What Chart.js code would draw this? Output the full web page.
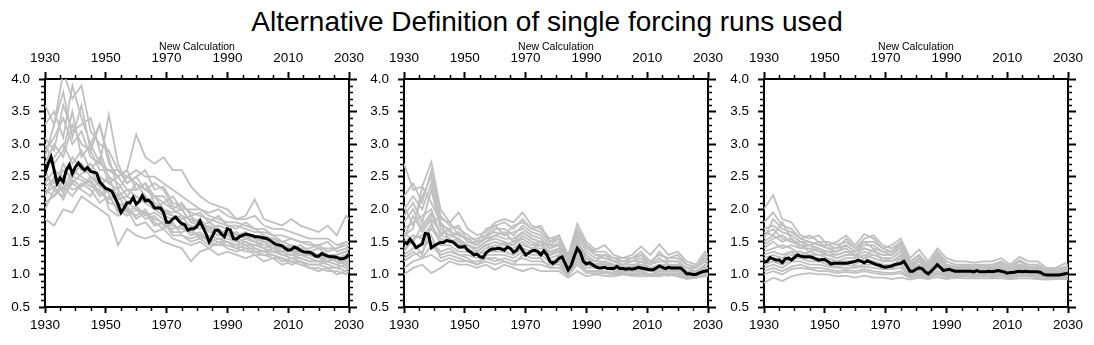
<!DOCTYPE html>
<html>
<head>
<meta charset="utf-8">
<script src="https://cdn.jsdelivr.net/npm/chart.js@4.4.1/dist/chart.umd.min.js"></script>
<style>
body { margin: 0; background: #fff; width: 1094px; height: 345px; overflow: hidden; position: relative; font-family: "Liberation Sans", Arial, sans-serif; }
#title { position: absolute; left: 0; top: 8px; width: 1094px; text-align: center; font-size: 28px; line-height: 28px; color: #000; }
canvas { position: absolute; top: 0; }
</style>
</head>
<body>
<div id="title">Alternative Definition of single forcing runs used</div>
<canvas id="c0" width="375" height="345" style="left:0px"></canvas>
<canvas id="c1" width="375" height="345" style="left:359px"></canvas>
<canvas id="c2" width="375" height="345" style="left:719px"></canvas>
<script>
// axis ticks
const xTicks = [1930, 1950, 1970, 1990, 2010, 2030];
const yTicks = [0.5, 1.0, 1.5, 2.0, 2.5, 3.0, 3.5, 4.0];
const minorYears = [1935,1940,1945,1955,1960,1965,1975,1980,1985,1995,2000,2005,2015,2020,2025];
const minorVals = [0.6,0.7,0.8,0.9,1.1,1.2,1.3,1.4,1.6,1.7,1.8,1.9,2.1,2.2,2.3,2.4,2.6,2.7,2.8,2.9,3.1,3.2,3.3,3.4,3.6,3.7,3.8,3.9];

// yearly x values for the ensemble mean (black)
const years = [];
for (let y = 1930; y <= 2030; y++) years.push(y);

// x values for the single runs (grey)
const grayYears = [1930,1933,1936,1939,1942,1945,1948,1951,1954,1957,1960,1963,1966,1969,1972,1975,1978,1981,1984,1987,1990,1993,1996,1999,2002,2005,2008,2011,2014,2017,2020,2023,2026,2029,2030];

// ensemble means
const meanLeft = [2.55,2.7,2.8,2.6,2.4,2.48,2.42,2.6,2.68,2.55,2.65,2.71,2.65,2.6,2.64,2.58,2.57,2.55,2.42,2.37,2.32,2.3,2.28,2.18,2.08,1.95,2.02,2.1,2.1,2.18,2.08,2.12,2.21,2.13,2.14,2.1,2.02,2.02,2.02,1.95,1.8,1.8,1.85,1.88,1.82,1.78,1.76,1.68,1.7,1.7,1.74,1.82,1.72,1.62,1.5,1.58,1.68,1.68,1.62,1.58,1.7,1.68,1.55,1.54,1.58,1.6,1.62,1.61,1.6,1.58,1.58,1.57,1.56,1.55,1.52,1.49,1.46,1.45,1.44,1.4,1.37,1.38,1.42,1.4,1.37,1.35,1.34,1.34,1.32,1.28,1.28,1.32,1.3,1.28,1.27,1.27,1.26,1.24,1.24,1.26,1.31];
const meanMid = [1.5,1.47,1.54,1.48,1.41,1.44,1.47,1.63,1.62,1.41,1.44,1.47,1.49,1.49,1.52,1.51,1.5,1.46,1.42,1.42,1.43,1.37,1.34,1.3,1.31,1.27,1.26,1.33,1.37,1.39,1.39,1.4,1.39,1.37,1.42,1.4,1.34,1.37,1.44,1.37,1.3,1.33,1.36,1.37,1.35,1.3,1.36,1.3,1.2,1.17,1.2,1.25,1.27,1.17,1.07,1.14,1.28,1.4,1.34,1.2,1.16,1.18,1.15,1.12,1.1,1.1,1.11,1.09,1.09,1.09,1.12,1.09,1.09,1.08,1.09,1.08,1.09,1.11,1.1,1.09,1.08,1.07,1.07,1.1,1.13,1.11,1.09,1.11,1.1,1.1,1.1,1.1,1.06,1.01,1.01,1.0,1.0,1.02,1.04,1.05,1.06];
const meanRight = [1.19,1.2,1.26,1.24,1.22,1.22,1.18,1.24,1.25,1.22,1.26,1.3,1.28,1.27,1.27,1.27,1.26,1.24,1.22,1.23,1.23,1.2,1.16,1.17,1.17,1.17,1.17,1.17,1.18,1.19,1.2,1.22,1.2,1.18,1.21,1.19,1.17,1.15,1.14,1.12,1.11,1.12,1.13,1.15,1.16,1.17,1.2,1.13,1.05,1.05,1.08,1.1,1.09,1.04,1.01,1.05,1.1,1.15,1.11,1.06,1.07,1.08,1.06,1.05,1.05,1.05,1.05,1.05,1.05,1.04,1.06,1.04,1.04,1.04,1.05,1.04,1.05,1.06,1.05,1.04,1.02,1.03,1.03,1.04,1.05,1.04,1.05,1.04,1.04,1.04,1.04,1.03,1.0,0.99,0.99,0.99,0.99,0.99,1.0,1.01,1.02];

// single runs
const runsLeft = [
  [3.6,3.3,4.1,3.7,3.9,3.2,3.0,2.9,2.6,2.5,2.4,2.3,2.2,2.1,2.0,1.9,1.85,1.8,1.7,1.75,1.7,1.6,1.55,1.6,1.5,1.45,1.4,1.35,1.35,1.3,1.25,1.3,1.2,1.25,1.2],
  [3.3,3.5,3.1,3.9,3.4,3.0,3.3,2.7,2.5,2.6,2.3,2.4,2.1,2.0,1.95,2.0,1.8,1.75,1.8,1.7,1.6,1.65,1.55,1.5,1.55,1.5,1.4,1.45,1.3,1.35,1.3,1.25,1.3,1.35,1.4],
  [2.9,3.1,3.4,3.0,3.2,2.8,2.7,3.45,2.7,2.4,2.5,2.6,2.3,2.35,2.1,2.05,1.95,1.9,1.85,1.8,1.75,1.7,1.8,1.7,1.6,1.55,1.5,1.45,1.4,1.4,1.45,1.35,1.4,1.5,1.5],
  [2.6,2.8,3.0,2.7,2.9,2.6,2.8,2.4,2.5,2.6,3.15,2.8,2.7,2.8,2.6,2.6,2.35,2.2,2.1,2.05,2.0,1.85,1.9,2.15,1.85,1.8,1.75,1.85,1.75,1.7,1.65,1.75,1.6,1.9,1.85],
  [2.5,2.4,2.6,2.5,2.7,2.5,2.4,2.3,2.2,2.3,2.2,2.1,2.2,2.0,1.9,1.85,1.9,1.75,1.7,1.6,1.65,1.55,1.5,1.45,1.5,1.4,1.35,1.4,1.3,1.3,1.25,1.2,1.25,1.2,1.25],
  [2.3,2.2,2.35,2.2,2.4,2.3,2.1,2.2,2.0,1.9,2.0,1.85,1.9,1.75,1.7,1.75,1.6,1.65,1.5,1.55,1.5,1.45,1.5,1.4,1.35,1.4,1.3,1.3,1.25,1.2,1.2,1.15,1.1,1.15,1.1],
  [1.85,1.75,2.0,1.95,2.2,2.1,2.0,1.9,1.45,1.7,1.6,1.55,1.6,1.5,1.45,1.4,1.2,1.35,1.4,1.3,1.35,1.3,1.25,1.3,1.2,1.25,1.15,1.2,1.15,1.1,1.05,1.1,1.0,1.05,1.1],
  [2.2,2.5,2.3,2.6,2.5,2.4,2.2,2.3,2.1,2.0,1.9,2.0,1.8,1.7,1.8,1.6,1.55,1.6,1.5,1.45,1.45,1.4,1.35,1.35,1.3,1.3,1.25,1.2,1.2,1.15,1.15,1.1,1.1,1.05,1.1],
  [3.1,2.9,3.6,3.2,3.3,3.4,2.9,2.5,2.4,2.2,2.4,2.2,2.0,2.1,2.2,2.0,1.8,1.85,1.7,1.6,1.7,1.6,1.65,1.55,1.5,1.55,1.45,1.4,1.45,1.35,1.4,1.3,1.3,1.35,1.3],
  [2.0,2.3,2.2,2.4,2.3,2.2,2.5,2.0,1.9,2.0,1.75,1.8,1.65,1.7,1.55,1.5,1.45,1.5,1.4,1.5,1.4,1.35,1.4,1.3,1.3,1.25,1.25,1.15,1.2,1.1,1.1,1.05,1.05,1.0,1.05],
  [2.4,2.6,2.5,2.8,2.6,2.7,2.5,2.4,2.3,2.1,2.2,2.1,2.0,1.9,1.85,1.9,1.7,1.8,1.65,1.6,1.6,1.5,1.55,1.5,1.4,1.45,1.35,1.3,1.35,1.3,1.25,1.25,1.2,1.15,1.2],
  [2.7,3.0,2.8,3.3,3.0,2.9,2.6,2.6,2.5,2.3,2.3,2.4,2.2,2.2,2.0,2.1,1.9,1.95,1.8,1.9,1.75,1.75,1.7,1.65,1.65,1.6,1.5,1.55,1.5,1.45,1.45,1.5,1.35,1.4,1.45],
  [2.35,2.45,2.25,2.5,2.45,2.35,2.3,2.1,2.05,2.1,2.0,1.95,1.85,1.8,1.75,1.7,1.65,1.6,1.55,1.5,1.5,1.45,1.4,1.4,1.35,1.35,1.3,1.25,1.25,1.2,1.2,1.2,1.15,1.2,1.15],
  [2.6,2.3,2.7,2.4,2.55,2.6,2.35,2.5,2.15,2.2,2.1,2.2,2.05,1.95,1.9,1.8,1.75,1.7,1.75,1.65,1.6,1.55,1.6,1.5,1.45,1.4,1.45,1.35,1.3,1.3,1.3,1.25,1.25,1.3,1.3],
  [2.1,2.2,2.45,2.3,2.35,2.45,2.25,2.15,2.25,1.95,2.05,1.9,1.95,1.85,1.65,1.65,1.7,1.55,1.6,1.55,1.55,1.5,1.45,1.45,1.4,1.35,1.35,1.3,1.3,1.25,1.2,1.25,1.2,1.2,1.25],
  [3.0,2.7,2.9,3.5,2.8,3.0,2.7,2.6,2.6,2.4,2.5,2.3,2.4,2.3,2.05,2.0,2.0,2.0,1.9,1.85,1.8,1.8,1.75,1.7,1.7,1.6,1.6,1.55,1.5,1.5,1.4,1.4,1.4,1.45,1.45],
  [2.25,2.35,2.15,2.45,2.35,2.5,2.35,2.25,1.95,2.05,1.85,1.95,1.75,1.8,1.6,1.6,1.5,1.55,1.45,1.45,1.5,1.4,1.45,1.35,1.35,1.3,1.2,1.25,1.2,1.15,1.15,1.2,1.15,1.1,1.15],
  [2.8,3.3,3.8,3.1,3.6,2.9,3.3,2.8,2.3,2.5,2.6,2.5,2.5,2.4,2.3,2.2,2.1,2.0,1.95,2.0,1.9,1.85,1.85,1.9,1.75,1.7,1.7,1.65,1.6,1.55,1.55,1.55,1.45,1.5,1.5]
];
const runsMid = [
  [2.7,2.3,2.35,2.73,2.0,1.8,1.95,1.7,1.6,1.65,1.8,1.85,1.8,1.95,1.75,1.7,1.55,1.6,1.3,1.78,1.5,1.38,1.45,1.3,1.25,1.3,1.43,1.3,1.46,1.3,1.35,1.2,1.15,1.35,1.3],
  [2.2,2.4,2.1,2.6,1.9,1.75,1.7,1.6,1.5,1.7,1.75,1.8,1.7,1.85,1.7,1.65,1.5,1.55,1.25,1.7,1.45,1.3,1.3,1.25,1.2,1.25,1.3,1.2,1.3,1.25,1.25,1.15,1.1,1.25,1.2],
  [1.9,2.1,1.8,2.3,1.7,1.6,1.65,1.5,1.45,1.6,1.65,1.6,1.65,1.7,1.6,1.55,1.4,1.5,1.2,1.6,1.35,1.25,1.25,1.2,1.15,1.2,1.2,1.15,1.2,1.2,1.2,1.1,1.05,1.15,1.15],
  [1.7,1.8,1.9,2.0,1.6,1.7,1.5,1.45,1.4,1.5,1.55,1.5,1.45,1.6,1.5,1.45,1.35,1.4,1.15,1.5,1.3,1.2,1.2,1.15,1.15,1.15,1.15,1.1,1.15,1.15,1.1,1.05,1.05,1.1,1.1],
  [1.5,1.6,1.55,1.7,1.5,1.55,1.4,1.4,1.3,1.4,1.45,1.4,1.4,1.5,1.4,1.4,1.3,1.35,1.1,1.45,1.2,1.15,1.15,1.1,1.1,1.1,1.1,1.05,1.1,1.1,1.1,1.0,1.0,1.05,1.05],
  [1.3,1.4,1.45,1.5,1.35,1.4,1.3,1.3,1.25,1.3,1.3,1.3,1.25,1.35,1.3,1.3,1.2,1.25,1.05,1.3,1.1,1.1,1.1,1.05,1.05,1.05,1.05,1.0,1.05,1.05,1.05,0.98,0.98,1.0,1.0],
  [1.0,1.1,1.15,1.02,1.1,1.2,1.15,1.15,1.1,1.15,1.07,1.15,1.1,1.05,1.1,1.05,1.05,1.05,0.95,1.05,0.97,1.0,0.98,0.97,1.0,0.98,0.97,0.98,0.97,1.0,0.97,0.93,0.95,0.97,0.98],
  [1.6,1.7,2.35,2.1,1.8,1.65,1.6,1.55,1.45,1.55,1.6,1.55,1.55,1.65,1.55,1.5,1.45,1.45,1.2,1.55,1.25,1.2,1.3,1.2,1.2,1.2,1.25,1.15,1.25,1.15,1.15,1.1,1.1,1.2,1.15],
  [1.2,1.3,1.35,1.6,1.25,1.3,1.25,1.2,1.2,1.25,1.2,1.25,1.2,1.25,1.2,1.2,1.15,1.15,1.0,1.2,1.05,1.05,1.05,1.02,1.02,1.02,1.02,1.0,1.02,1.02,1.02,0.96,0.97,0.99,1.0],
  [1.8,2.0,1.7,1.9,1.8,1.5,1.55,1.35,1.35,1.45,1.5,1.45,1.5,1.55,1.45,1.5,1.3,1.4,1.15,1.4,1.25,1.15,1.2,1.15,1.12,1.12,1.2,1.1,1.12,1.12,1.15,1.05,1.02,1.12,1.1],
  [1.4,1.5,1.3,1.8,1.45,1.45,1.35,1.35,1.3,1.35,1.35,1.35,1.3,1.4,1.35,1.35,1.25,1.3,1.1,1.35,1.15,1.12,1.12,1.08,1.08,1.08,1.08,1.05,1.08,1.08,1.08,1.0,1.0,1.03,1.05],
  [2.0,2.2,2.0,2.4,1.75,1.7,1.75,1.5,1.5,1.55,1.7,1.7,1.6,1.75,1.65,1.6,1.45,1.55,1.2,1.65,1.4,1.3,1.25,1.2,1.2,1.2,1.3,1.15,1.35,1.2,1.2,1.1,1.1,1.3,1.25],
  [1.55,1.9,1.65,1.85,1.65,1.6,1.55,1.45,1.4,1.5,1.6,1.65,1.5,1.65,1.55,1.5,1.4,1.45,1.15,1.5,1.2,1.15,1.15,1.12,1.1,1.12,1.12,1.08,1.15,1.1,1.1,1.05,1.03,1.1,1.1],
  [1.35,1.55,1.6,1.75,1.55,1.5,1.5,1.35,1.35,1.45,1.4,1.5,1.35,1.45,1.4,1.45,1.3,1.35,1.1,1.4,1.15,1.1,1.1,1.08,1.05,1.07,1.07,1.05,1.05,1.05,1.07,1.02,1.0,1.05,1.08],
  [1.25,1.35,1.25,1.45,1.3,1.35,1.3,1.25,1.15,1.25,1.25,1.2,1.15,1.3,1.25,1.25,1.1,1.2,1.02,1.25,1.05,1.05,1.03,1.02,1.02,1.0,1.02,1.0,1.0,1.0,1.0,0.97,0.96,1.0,1.02],
  [2.05,1.75,2.2,2.5,1.85,1.8,1.6,1.55,1.55,1.6,1.75,1.6,1.75,1.8,1.7,1.75,1.5,1.6,1.25,1.7,1.45,1.35,1.35,1.25,1.25,1.25,1.35,1.2,1.3,1.25,1.3,1.15,1.12,1.2,1.2],
  [1.1,1.2,1.25,1.3,1.2,1.25,1.2,1.2,1.15,1.2,1.15,1.2,1.15,1.15,1.15,1.15,1.1,1.1,0.98,1.15,1.02,1.02,1.02,1.0,1.0,1.0,1.0,0.98,1.0,0.98,1.0,0.95,0.95,0.98,0.98],
  [1.65,1.5,1.75,1.95,1.6,1.55,1.45,1.45,1.35,1.45,1.5,1.45,1.45,1.55,1.45,1.45,1.35,1.35,1.12,1.45,1.2,1.15,1.18,1.12,1.1,1.1,1.15,1.08,1.12,1.1,1.12,1.05,1.02,1.08,1.1]
];
const runsRight = [
  [2.0,2.22,1.85,1.8,1.6,1.55,1.6,1.45,1.5,1.6,1.45,1.62,1.55,1.4,1.45,1.55,1.25,1.38,1.2,1.4,1.25,1.2,1.2,1.18,1.2,1.2,1.25,1.15,1.27,1.2,1.2,1.1,1.1,1.17,1.15],
  [1.8,1.95,1.75,1.7,1.55,1.6,1.5,1.5,1.45,1.5,1.4,1.55,1.6,1.45,1.4,1.5,1.2,1.3,1.15,1.35,1.2,1.15,1.15,1.15,1.15,1.15,1.2,1.12,1.22,1.15,1.15,1.08,1.08,1.12,1.12],
  [1.7,1.75,1.65,1.6,1.5,1.5,1.45,1.4,1.4,1.45,1.35,1.45,1.45,1.35,1.35,1.45,1.15,1.25,1.12,1.3,1.15,1.12,1.12,1.12,1.12,1.12,1.15,1.1,1.15,1.12,1.12,1.05,1.05,1.1,1.1],
  [1.5,1.6,1.5,1.55,1.45,1.45,1.4,1.35,1.35,1.4,1.3,1.4,1.35,1.3,1.3,1.4,1.12,1.2,1.08,1.25,1.12,1.1,1.1,1.1,1.1,1.1,1.12,1.07,1.12,1.1,1.1,1.03,1.03,1.08,1.08],
  [1.4,1.5,1.4,1.45,1.4,1.4,1.35,1.3,1.3,1.35,1.28,1.35,1.3,1.25,1.25,1.35,1.1,1.15,1.05,1.2,1.1,1.08,1.08,1.08,1.07,1.08,1.1,1.05,1.1,1.08,1.08,1.02,1.02,1.05,1.06],
  [1.3,1.35,1.3,1.35,1.35,1.3,1.3,1.25,1.2,1.25,1.25,1.3,1.25,1.2,1.2,1.3,1.05,1.12,1.02,1.15,1.07,1.05,1.05,1.05,1.05,1.05,1.07,1.03,1.07,1.05,1.05,1.0,1.0,1.03,1.04],
  [1.2,1.25,1.2,1.3,1.3,1.25,1.25,1.2,1.15,1.2,1.2,1.2,1.2,1.15,1.15,1.2,1.02,1.08,1.0,1.1,1.04,1.03,1.03,1.02,1.03,1.02,1.04,1.0,1.04,1.03,1.03,0.98,0.98,1.0,1.01],
  [1.1,1.15,1.1,1.2,1.2,1.15,1.15,1.12,1.1,1.1,1.1,1.12,1.1,1.08,1.08,1.1,0.98,1.03,0.97,1.05,1.0,1.0,1.0,0.99,1.0,0.99,1.0,0.97,1.0,1.0,1.0,0.96,0.96,0.98,0.98],
  [0.87,0.95,0.9,0.97,1.0,1.02,1.0,1.0,0.97,0.98,0.95,0.98,0.95,0.95,0.93,0.95,0.92,0.95,0.93,0.96,0.93,0.95,0.94,0.94,0.94,0.94,0.94,0.93,0.94,0.94,0.93,0.92,0.93,0.93,0.92],
  [1.0,1.05,1.0,1.08,1.1,1.08,1.05,1.05,1.02,1.04,1.02,1.05,1.02,1.0,1.0,1.02,0.95,0.98,0.95,1.0,0.96,0.97,0.97,0.96,0.97,0.96,0.97,0.95,0.97,0.97,0.96,0.94,0.94,0.96,0.95],
  [1.6,1.7,1.55,1.5,1.45,1.35,1.4,1.3,1.25,1.3,1.3,1.25,1.4,1.2,1.25,1.35,1.08,1.15,1.05,1.25,1.1,1.07,1.07,1.06,1.06,1.06,1.08,1.04,1.1,1.06,1.06,1.01,1.01,1.06,1.07],
  [1.35,1.4,1.45,1.4,1.3,1.35,1.3,1.3,1.25,1.3,1.3,1.25,1.3,1.25,1.2,1.25,1.05,1.1,1.02,1.12,1.05,1.05,1.06,1.05,1.04,1.05,1.06,1.02,1.05,1.04,1.04,0.99,1.0,1.02,1.03],
  [1.45,1.55,1.6,1.5,1.5,1.45,1.5,1.4,1.35,1.45,1.35,1.5,1.4,1.35,1.3,1.45,1.12,1.25,1.08,1.3,1.12,1.1,1.1,1.08,1.1,1.08,1.12,1.05,1.15,1.1,1.1,1.03,1.04,1.08,1.1],
  [1.25,1.3,1.25,1.35,1.25,1.25,1.2,1.2,1.2,1.2,1.15,1.25,1.2,1.15,1.12,1.25,1.0,1.08,0.98,1.1,1.02,1.02,1.02,1.0,1.0,1.0,1.02,0.98,1.02,1.0,1.0,0.96,0.97,0.99,1.0],
  [1.15,1.2,1.15,1.25,1.25,1.2,1.2,1.15,1.12,1.15,1.12,1.15,1.15,1.1,1.1,1.15,0.97,1.05,0.97,1.05,1.0,0.99,0.99,0.98,0.99,0.98,0.99,0.96,0.99,0.98,0.99,0.95,0.95,0.97,0.97],
  [1.55,1.85,1.7,1.65,1.55,1.5,1.45,1.45,1.4,1.55,1.4,1.5,1.5,1.4,1.35,1.5,1.18,1.3,1.12,1.35,1.15,1.12,1.14,1.12,1.14,1.12,1.18,1.08,1.2,1.12,1.12,1.06,1.06,1.1,1.12],
  [1.05,1.1,1.05,1.12,1.15,1.1,1.1,1.08,1.05,1.07,1.05,1.08,1.05,1.03,1.02,1.05,0.96,1.0,0.96,1.02,0.98,0.98,0.98,0.97,0.98,0.97,0.98,0.96,0.98,0.98,0.97,0.95,0.95,0.97,0.96],
  [1.65,1.6,1.8,1.55,1.4,1.45,1.35,1.35,1.3,1.35,1.35,1.4,1.35,1.3,1.3,1.4,1.1,1.2,1.06,1.22,1.08,1.08,1.08,1.07,1.08,1.07,1.1,1.05,1.12,1.07,1.08,1.02,1.02,1.07,1.08]
];

const FONT = '"Liberation Sans", Arial, sans-serif';

// small ticks every 5 years / 0.1, outside the frame like the big ones
const minorTicks = {
  id: 'minorTicks',
  afterDraw(chart) {
    const { ctx, chartArea: a, scales } = chart;
    ctx.save();
    ctx.strokeStyle = '#000';
    ctx.lineWidth = 1.5;
    ctx.beginPath();
    minorYears.forEach(yr => {
      const px = Math.round(scales.x.getPixelForValue(yr)) + 0.5;
      ctx.moveTo(px, a.bottom); ctx.lineTo(px, a.bottom + 4);
      ctx.moveTo(px, a.top); ctx.lineTo(px, a.top - 4);
    });
    minorVals.forEach(v => {
      const py = Math.round(scales.y.getPixelForValue(v)) + 0.5;
      ctx.moveTo(a.left, py); ctx.lineTo(a.left - 4, py);
      ctx.moveTo(a.right, py); ctx.lineTo(a.right + 4, py);
    });
    ctx.stroke();
    ctx.restore();
  }
};

// fixed axis sizes so every panel gets the same plot box
function fixSize(s, w, h) {
  if (w !== null) s.width = w;
  if (h !== null) s.height = h;
  s.paddingLeft = 0; s.paddingRight = 0; s.paddingTop = 0; s.paddingBottom = 0;
}

function xAxis(position, height, labelPad, tickLen, withTitle) {
  return {
    type: 'linear', position: position, min: 1930, max: 2030,
    afterBuildTicks: s => { s.ticks = xTicks.map(v => ({ value: v })); },
    afterFit: s => fixSize(s, null, height),
    ticks: { color: '#000', font: { family: FONT, size: 13.5 }, padding: labelPad, maxRotation: 0, callback: v => String(v) },
    grid: { display: true, drawOnChartArea: false, drawTicks: true, tickLength: tickLen, tickWidth: 2, tickColor: '#000' },
    border: { display: true, color: '#000', width: 2 },
    title: withTitle ? { display: true, text: 'New Calculation', color: '#000', font: { family: FONT, size: 10.5 }, padding: { top: 41, bottom: 0 } } : { display: false }
  };
}

function yAxis(position, width, labelPad, tickLen, showLabels) {
  return {
    type: 'linear', position: position, min: 0.5, max: 4.0,
    afterBuildTicks: s => { s.ticks = yTicks.map(v => ({ value: v })); },
    afterFit: s => fixSize(s, width, null),
    ticks: { color: '#000', font: { family: FONT, size: 13.5 }, padding: labelPad, callback: v => showLabels ? v.toFixed(1) : '' },
    grid: { display: true, drawOnChartArea: false, drawTicks: true, tickLength: tickLen, tickWidth: 2, tickColor: '#000' },
    border: { display: true, color: '#000', width: 2 }
  };
}

function makePanel(id, mean, runs) {
  const datasets = [{
    data: years.map((yr, i) => ({ x: yr, y: mean[i] })),
    borderColor: '#000', borderWidth: 3, pointRadius: 0, tension: 0, order: 0
  }];
  runs.forEach(run => {
    datasets.push({
      data: grayYears.map((yr, i) => ({ x: yr, y: run[i] })),
      borderColor: '#c0c0c0', borderWidth: 1.8, pointRadius: 0, tension: 0, order: 1
    });
  });
  new Chart(document.getElementById(id), {
    type: 'line',
    data: { datasets: datasets },
    options: {
      responsive: false, animation: false, events: [],
      layout: { padding: { left: 0, right: 16, top: 0, bottom: 0 } },
      plugins: { legend: { display: false }, tooltip: { enabled: false }, title: { display: false } },
      scales: {
        x: xAxis('bottom', 38, 4, 6, false),
        x2: xAxis('top', 79, 6, 7, true),
        y: yAxis('left', 45, 9, 6, true),
        y2: yAxis('right', 10, 0, 8, false)
      }
    },
    plugins: [minorTicks]
  });
}

makePanel('c0', meanLeft, runsLeft);
makePanel('c1', meanMid, runsMid);
makePanel('c2', meanRight, runsRight);
</script>
</body>
</html>
